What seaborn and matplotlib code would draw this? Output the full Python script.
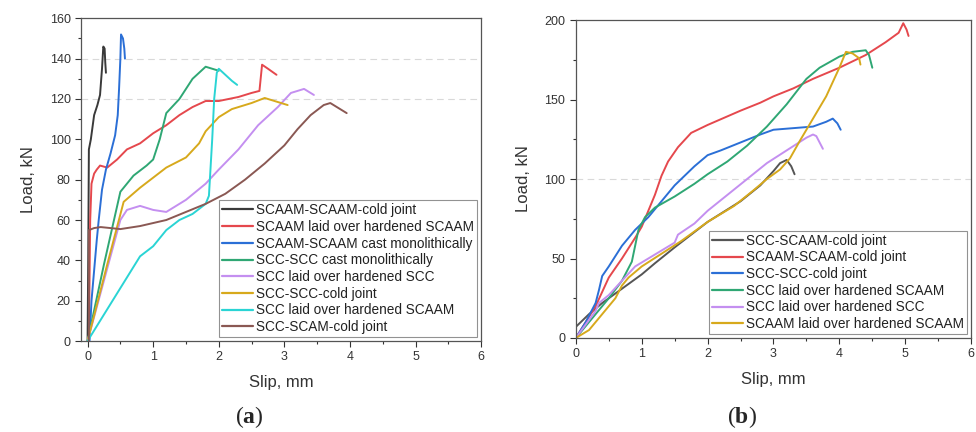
import numpy as np
import pandas as pd
import matplotlib
matplotlib.use("Agg")
import matplotlib.pyplot as plt
import seaborn as sns

# ---- panel (a) data: slip (mm), load (kN) ----
a_names = [
    "SCAAM-SCAAM-cold joint",
    "SCAAM laid over hardened SCAAM",
    "SCAAM-SCAAM cast monolithically",
    "SCC-SCC cast monolithically",
    "SCC laid over hardened SCC",
    "SCC-SCC-cold joint",
    "SCC laid over hardened SCAAM",
    "SCC-SCAM-cold joint",
]
a_colors = ["#3a3a3a", "#e5484d", "#2b6fd6", "#2fa774", "#c48ff0", "#d7a91c", "#2ad4d4", "#8a5853"]

a_slip_1 = [0, 0.01, 0.02, 0.05, 0.1, 0.15, 0.19, 0.22, 0.24, 0.26, 0.27, 0.28]
a_load_1 = [0, 40, 95, 100, 112, 117, 122, 135, 146, 145, 138, 133]
a_slip_2 = [0.02, 0.03, 0.04, 0.06, 0.1, 0.14, 0.19, 0.3, 0.45, 0.6, 0.8, 1.0, 1.2, 1.4, 1.6, 1.8, 2.0, 2.3, 2.5, 2.62, 2.66, 2.75, 2.88]
a_load_2 = [0, 30, 60, 78, 83, 85, 87, 86, 90, 95, 98, 103, 107, 112, 116, 119, 119, 121, 123, 124, 137, 135, 132]
a_slip_3 = [0.03, 0.06, 0.1, 0.14, 0.17, 0.22, 0.28, 0.35, 0.42, 0.46, 0.48, 0.5, 0.51, 0.54, 0.56, 0.57]
a_load_3 = [0, 20, 35, 50, 60, 75, 85, 93, 102, 112, 125, 140, 152, 150, 145, 140]
a_slip_4 = [0, 0.25, 0.5, 0.7, 0.9, 1.0, 1.1, 1.2, 1.4, 1.6, 1.8, 2.0]
a_load_4 = [0, 38, 74, 82, 87, 90, 100, 113, 120, 130, 136, 134]
a_slip_5 = [0, 0.25, 0.5, 0.6, 0.8, 1.0, 1.2, 1.3, 1.5, 1.8, 2.0, 2.3, 2.6, 2.9, 3.1, 3.3, 3.45]
a_load_5 = [0, 30, 60, 65, 67, 65, 64, 66, 70, 78, 85, 95, 107, 116, 123, 125, 122]
a_slip_6 = [0, 0.3, 0.55, 0.8, 1.0, 1.2, 1.5, 1.7, 1.8, 2.0, 2.2, 2.5, 2.7, 2.85, 3.05]
a_load_6 = [0, 38, 69, 76, 81, 86, 91, 98, 104, 111, 115, 118, 120.5, 119, 117]
a_slip_7 = [0, 0.4, 0.8, 1.0, 1.2, 1.4, 1.6, 1.8, 1.85, 1.9, 1.93, 1.97, 2.0, 2.1, 2.2, 2.28]
a_load_7 = [0, 21, 42, 47, 55, 60, 63, 68, 72, 100, 120, 133, 135, 132, 129, 127]
a_slip_8 = [0.02, 0.02, 0.1, 0.2, 0.5, 0.8, 1.0, 1.2, 1.5, 1.8, 2.1, 2.4, 2.7, 3.0, 3.2, 3.4, 3.6, 3.7, 3.8, 3.95]
a_load_8 = [0, 55, 56, 56.5, 55.5, 57, 58.5, 60, 64, 68, 73, 80, 88, 97, 105, 112, 117, 118, 116, 113]

# ---- panel (b) data ----
b_names = [
    "SCC-SCAAM-cold joint",
    "SCAAM-SCAAM-cold joint",
    "SCC-SCC-cold joint",
    "SCC laid over hardened SCAAM",
    "SCC laid over hardened SCC",
    "SCAAM laid over hardened SCAAM",
]
b_colors = ["#555555", "#e5484d", "#2b6fd6", "#2fa774", "#c48ff0", "#d7a91c"]

b_slip_1 = [0, 0.2, 0.4, 0.6, 0.8, 1.0, 1.2, 1.5, 2.0, 2.5, 2.8, 3.0, 3.1, 3.2, 3.27, 3.32]
b_load_1 = [7, 15, 22, 28, 34, 40, 47, 57, 73, 86, 96, 105, 110, 112, 108, 103]
b_slip_2 = [0, 0.3, 0.5, 0.7, 0.9, 1.0, 1.1, 1.2, 1.3, 1.4, 1.55, 1.75, 2.0, 2.5, 2.8, 3.0, 3.3, 3.6, 4.0, 4.4, 4.7, 4.9, 4.97, 5.02, 5.05]
b_load_2 = [0, 20, 38, 50, 63, 70, 80, 90, 102, 111, 120, 129, 134, 143, 148, 152, 157, 163, 170, 178, 186, 192, 198, 194, 190]
b_slip_3 = [0, 0.15, 0.3, 0.35, 0.4, 0.5, 0.7, 0.9, 1.1, 1.3, 1.5, 1.8, 2.0, 2.2, 2.5, 2.8, 3.0, 3.3, 3.6, 3.8, 3.9, 3.97, 4.02]
b_load_3 = [0, 10, 22, 30, 39, 45, 58, 68, 76, 86, 96, 108, 115, 118, 123, 128, 131, 132, 133, 136, 138, 135, 131]
b_slip_4 = [0, 0.3, 0.5, 0.7, 0.85, 0.9, 0.95, 1.05, 1.2, 1.5, 1.8, 2.0, 2.3, 2.6, 2.9, 3.2, 3.5, 3.7, 4.0, 4.2, 4.4, 4.45, 4.5]
b_load_4 = [0, 15, 25, 36, 48, 58, 68, 76, 82, 89, 97, 103, 111, 121, 133, 147, 163, 170, 177, 180, 181, 178, 170]
b_slip_5 = [0, 0.3, 0.35, 0.5, 0.7, 0.9, 1.1, 1.3, 1.5, 1.55, 1.8, 2.0, 2.3, 2.6, 2.9, 3.2, 3.5, 3.6, 3.65, 3.7, 3.75]
b_load_5 = [0, 17, 22, 27, 36, 45, 50, 55, 60, 65, 72, 80, 90, 100, 110, 118, 126, 128, 127, 123, 119]
b_slip_6 = [0, 0.2, 0.4, 0.6, 0.7, 0.8, 1.0, 1.3, 1.6, 2.0, 2.4, 2.7, 2.9, 3.1, 3.25, 3.4, 3.6, 3.8, 4.0, 4.1, 4.2, 4.3, 4.32]
b_load_6 = [0, 5, 15, 25, 33, 38, 45, 53, 61, 73, 83, 93, 100, 106, 113, 124, 138, 152, 170, 180, 179, 176, 172]

a_slips = [a_slip_1, a_slip_2, a_slip_3, a_slip_4, a_slip_5, a_slip_6, a_slip_7, a_slip_8]
a_loads = [a_load_1, a_load_2, a_load_3, a_load_4, a_load_5, a_load_6, a_load_7, a_load_8]
b_slips = [b_slip_1, b_slip_2, b_slip_3, b_slip_4, b_slip_5, b_slip_6]
b_loads = [b_load_1, b_load_2, b_load_3, b_load_4, b_load_5, b_load_6]


def make_frame(names, slips, loads):
    rows = []
    for name, s, l in zip(names, slips, loads):
        for i, (x, y) in enumerate(zip(s, l)):
            rows.append({"series": name, "slip": x, "load": y, "order": i})
    return pd.DataFrame(rows)


df_a = make_frame(a_names, a_slips, a_loads)
df_b = make_frame(b_names, b_slips, b_loads)

sns.set_style("ticks")
plt.rcParams["font.family"] = ["Liberation Sans", "DejaVu Sans"]
plt.rcParams["mathtext.fontset"] = "custom"
plt.rcParams["mathtext.bf"] = "Liberation Serif:bold"
plt.rcParams["mathtext.rm"] = "Liberation Serif"

fig = plt.figure(figsize=(9.76, 4.32), dpi=100)
ax_a = fig.add_axes([0.083, 0.2106, 0.410, 0.747])
ax_b = fig.add_axes([0.590, 0.2176, 0.405, 0.736])


def style_axis(ax, xlim, ylim, yticks, yminor, grid_ys):
    ax.set_xlim(*xlim)
    ax.set_ylim(*ylim)
    ax.set_xticks(range(0, 7))
    ax.set_xticks(np.arange(0.5, 6, 1.0), minor=True)
    ax.set_yticks(yticks)
    ax.set_yticks(yminor, minor=True)
    ax.tick_params(axis="both", which="major", direction="out", length=4, width=0.8,
                   labelsize=9, colors="#333333")
    ax.tick_params(axis="both", which="minor", direction="out", length=2.5, width=0.8, colors="#333333")
    for side in ax.spines.values():
        side.set_color("#555555")
        side.set_linewidth(0.9)
    for gy in grid_ys:
        ax.axhline(gy, color="#d9d9d9", lw=0.8, ls=(0, (6, 4)), zorder=0)
    ax.set_xlabel("Slip, mm", fontsize=12, color="#333333", labelpad=8)
    ax.set_ylabel("Load, kN", fontsize=12, color="#333333", labelpad=10)


sns.lineplot(data=df_a, x="slip", y="load", hue="series", hue_order=a_names,
             palette=a_colors, sort=False, estimator=None, units="series",
             linewidth=1.4, ax=ax_a)
style_axis(ax_a, (-0.1, 6), (0, 160), range(0, 161, 20), range(10, 160, 20), [120, 140])

sns.lineplot(data=df_b, x="slip", y="load", hue="series", hue_order=b_names,
             palette=b_colors, sort=False, estimator=None, units="series",
             linewidth=1.4, ax=ax_b)
style_axis(ax_b, (0, 6), (0, 200), range(0, 201, 50), range(25, 200, 50), [100])

for ax in (ax_a, ax_b):
    leg = ax.legend(loc="lower right", fontsize=9.8, frameon=True, fancybox=False,
                    handlelength=2.3, handletextpad=0.25, labelspacing=0.2,
                    borderaxespad=0.3, borderpad=0.2, title=None)
    leg.get_frame().set_edgecolor("#777777")
    leg.get_frame().set_linewidth(0.8)
    for line in leg.get_lines():
        line.set_linewidth(1.6)
    for t in leg.get_texts():
        t.set_color("#222222")

fig.text(0.255, 0.035, r"($\mathbf{a}$)", fontsize=17, ha="center", va="center",
         family="Liberation Serif")
fig.text(0.760, 0.035, r"($\mathbf{b}$)", fontsize=17, ha="center", va="center",
         family="Liberation Serif")

fig.savefig("out.png", dpi=100)
